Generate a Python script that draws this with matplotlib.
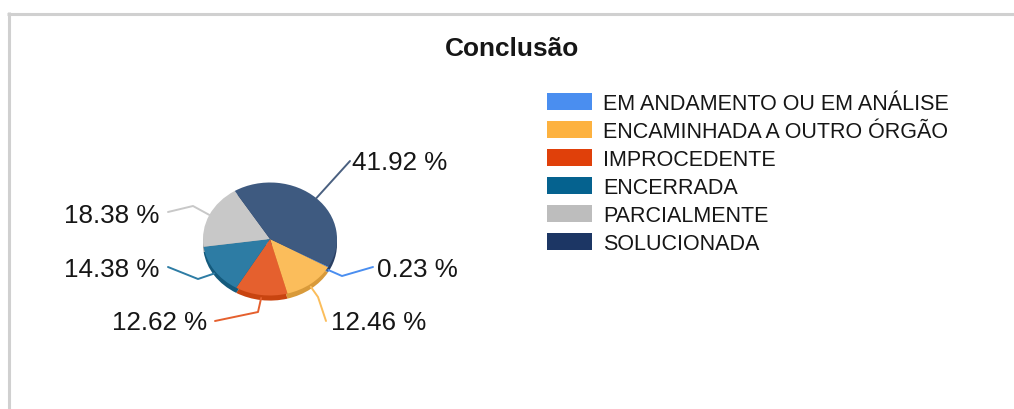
import numpy as np
import matplotlib
matplotlib.use("Agg")
import matplotlib.pyplot as plt
from matplotlib.patches import Rectangle

plt.rcParams['font.family'] = ['Liberation Sans', 'DejaVu Sans']

# ---- data ----
title = "Conclusão"
categories = ["EM ANDAMENTO OU EM ANÁLISE", "ENCAMINHADA A OUTRO ÓRGÃO", "IMPROCEDENTE",
              "ENCERRADA", "PARCIALMENTE", "SOLUCIONADA"]
values = [0.23, 12.46, 12.62, 14.38, 18.38, 41.92]

# ---- styles ----
legend_colors = ["#4a8ef0", "#fdb240", "#e0400a", "#05628f", "#bdbdbd", "#1c3664"]
face_colors = ["#5a9af2", "#fbbd5b", "#e5602e", "#2d7ca4", "#c8c8c8", "#3e5a80"]
side_colors = ["#3a70c0", "#d89a3a", "#c84410", "#145a7c", "#a0a0a0", "#2a4064"]
line_colors = ["#4a8ef0", "#fbbd5b", "#e5602e", "#2d7ca4", "#c8c8c8", "#4a6080"]
text_color = "#161616"

W, H = 1014, 410
fig = plt.figure(figsize=(W / 100, H / 100), dpi=100)

# pie geometry (pixels)
cx, cy, rx, ry = 270, 240, 67, 56.5
depth = 0.09
start = -29.2

axp = fig.add_axes([(cx - rx) / W, (H - cy - ry) / H, 2 * rx / W, 2 * ry / H])
side, _ = axp.pie(values, colors=side_colors, startangle=start, counterclock=False,
                  radius=1, center=(0, -depth), wedgeprops=dict(linewidth=0))
top, _ = axp.pie(values, colors=face_colors, startangle=start, counterclock=False,
                 radius=1, center=(0, 0), wedgeprops=dict(linewidth=0))
for w in list(side) + list(top):
    w.set_clip_on(False)
axp.set_aspect('auto')
axp.set_xlim(-1, 1)
axp.set_ylim(-1, 1)
axp.axis('off')

# overlay axes in pixel coordinates
ov = fig.add_axes([0, 0, 1, 1], zorder=5)
ov.set_xlim(0, W)
ov.set_ylim(H, 0)
ov.axis('off')

# frame lines
ov.plot([7, W], [14.5, 14.5], color="#d0d0d0", lw=2.2, solid_capstyle='butt')
ov.plot([8.5, 8.5], [13.4, H], color="#d0d0d0", lw=2.2, solid_capstyle='butt')

# title
ov.text(512, 56.5, title, ha='center', va='baseline', fontsize=18.9,
        fontweight='bold', color=text_color)

# labels with leader lines
# layout: (elbow point or None, end point, text x, text baseline, ha)
label_layout = [
    ((342, 277), (373, 268), 377, 277, 'left'),
    ((318, 298), (326, 322), 331, 330, 'left'),
    ((258, 313), (215, 322), 207, 330, 'right'),
    ((198, 280), (168, 268), 159, 277, 'right'),
    ((193, 207), (168, 213), 159, 223, 'right'),
    (None, (350, 162), 352, 170, 'left'),
]
cum = np.concatenate([[0], np.cumsum(values)]) / sum(values)
for i, v in enumerate(values):
    mid = np.deg2rad(start - 360 * (cum[i] + cum[i + 1]) / 2)
    sx = cx + rx * np.cos(mid)
    sy = cy - ry * np.sin(mid)
    if np.sin(mid) < 0:
        sy += depth * ry * 0.6
    elbow, end, tx, ty, ha = label_layout[i]
    xs = [sx] + ([elbow[0]] if elbow else []) + [end[0]]
    ys = [sy] + ([elbow[1]] if elbow else []) + [end[1]]
    ov.plot(xs, ys, color=line_colors[i], lw=1.4, solid_capstyle='round')
    ov.text(tx, ty, f"{v:.2f} %", ha=ha, va='baseline', fontsize=18.7, color=text_color)

# legend
lx, ly0, step = 547, 102, 28
for i, (cat, col) in enumerate(zip(categories, legend_colors)):
    y = ly0 + i * step
    ov.add_patch(Rectangle((lx, y - 8.5), 45, 17, facecolor=col, edgecolor='none'))
    ov.text(603, y + 8.5, cat, ha='left', va='baseline', fontsize=15.5, color=text_color)

fig.savefig("out.png", dpi=100)
